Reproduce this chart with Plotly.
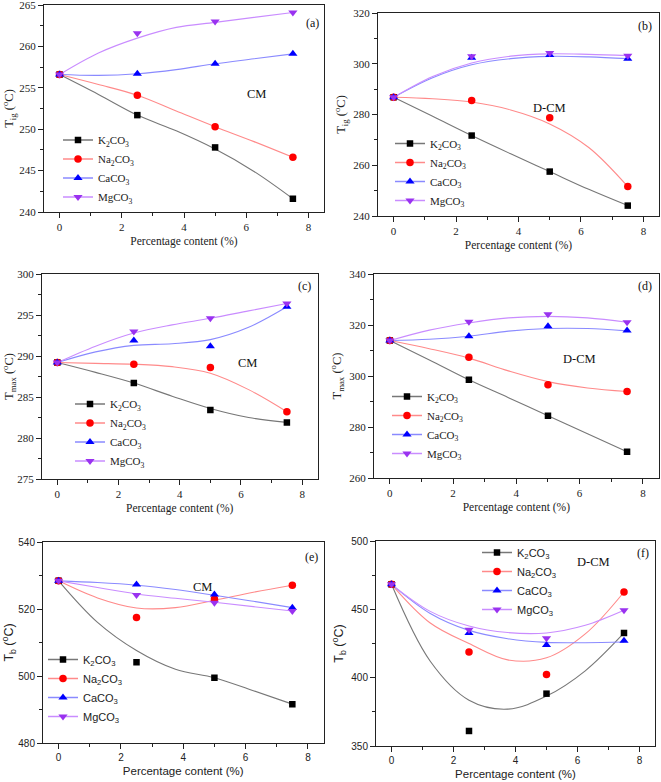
import plotly.graph_objects as go

# ---------------- data ----------------
x_pct = [0, 2.5, 5, 7.5]
x_fit = [0, 1.25, 2.5, 3.75, 5, 6.25, 7.5]

series_names = ["K<sub>2</sub>CO<sub>3</sub>", "Na<sub>2</sub>CO<sub>3</sub>",
                "CaCO<sub>3</sub>", "MgCO<sub>3</sub>"]

# (a) CM, T_ig
a_k2co3 = [256.6, 251.7, 247.8, 241.6]
a_na2co3 = [256.6, 254.1, 250.3, 246.6]
a_caco3 = [256.6, 256.7, 257.9, 259.1]
a_mgco3 = [256.6, 261.6, 263.0, 264.1]
a_k2co3_fit = [256.6, 254.2, 251.7, 249.8, 247.6, 244.9, 241.6]
a_na2co3_fit = [256.6, 255.4, 254.1, 252.2, 250.3, 248.5, 246.6]
a_caco3_fit = [256.6, 256.5, 256.7, 257.2, 257.9, 258.5, 259.1]
a_mgco3_fit = [256.6, 259.2, 261.0, 262.3, 262.9, 263.5, 264.1]

# (b) D-CM, T_ig
b_k2co3 = [286.8, 271.7, 257.5, 244.1]
b_na2co3 = [286.8, 285.5, 278.7, 251.6]
b_caco3 = [286.8, 302.4, 303.4, 302.0]
b_mgco3 = [286.8, 303.0, 304.2, 303.2]
b_k2co3_fit = [286.8, 279.3, 271.7, 264.5, 257.5, 250.5, 244.1]
b_na2co3_fit = [286.8, 286.2, 284.9, 281.8, 276.3, 267.0, 251.6]
b_caco3_fit = [286.8, 294.5, 299.6, 302.0, 302.9, 302.7, 302.0]
b_mgco3_fit = [286.8, 295.0, 300.3, 303.0, 303.9, 303.7, 303.2]

# (c) CM, T_max
c_k2co3 = [289.2, 286.7, 283.4, 281.9]
c_na2co3 = [289.2, 289.0, 288.6, 283.2]
c_caco3 = [289.2, 291.9, 291.2, 296.0]
c_mgco3 = [289.2, 293.0, 294.6, 296.4]
c_k2co3_fit = [289.2, 288.0, 286.7, 285.1, 283.6, 282.5, 281.9]
c_na2co3_fit = [289.2, 289.1, 289.0, 288.7, 287.9, 285.9, 283.2]
c_caco3_fit = [289.2, 290.5, 291.3, 291.5, 292.0, 293.5, 296.0]
c_mgco3_fit = [289.2, 291.2, 292.8, 293.8, 294.6, 295.5, 296.4]

# (d) D-CM, T_max
d_k2co3 = [313.9, 298.5, 284.4, 270.3]
d_na2co3 = [313.9, 307.4, 296.6, 293.9]
d_caco3 = [313.9, 315.6, 319.5, 317.8]
d_mgco3 = [313.9, 321.3, 324.2, 321.1]
d_k2co3_fit = [313.9, 306.3, 298.5, 291.5, 284.4, 277.4, 270.3]
d_na2co3_fit = [313.9, 310.7, 307.0, 302.0, 297.8, 295.3, 293.9]
d_caco3_fit = [313.9, 314.4, 315.6, 317.6, 318.6, 318.6, 317.7]
d_mgco3_fit = [313.9, 318.0, 320.8, 322.8, 323.4, 322.8, 321.1]

# (e) CM, T_b
e_k2co3 = [528.4, 504.1, 499.5, 491.6]
e_na2co3 = [528.4, 517.5, 523.0, 527.1]
e_caco3 = [528.4, 527.3, 524.3, 520.4]
e_mgco3 = [528.4, 524.2, 521.9, 519.4]
e_k2co3_fit = [528.4, 516.0, 507.6, 502.0, 499.5, 495.6, 491.6]
e_na2co3_fit = [528.4, 523.3, 520.3, 520.4, 522.6, 525.0, 527.1]
e_caco3_fit = [528.4, 527.9, 527.1, 525.8, 524.1, 522.3, 520.4]
e_mgco3_fit = [528.4, 526.4, 524.5, 523.2, 522.0, 520.7, 519.4]

# (f) D-CM, T_b
f_k2co3 = [468.3, 361.0, 388.3, 432.7]
f_na2co3 = [468.3, 418.8, 402.4, 462.7]
f_caco3 = [468.3, 432.7, 423.9, 427.0]
f_mgco3 = [468.3, 435.1, 428.8, 449.3]
f_k2co3_fit = [468.3, 412.0, 383.5, 377.0, 386.5, 405.0, 432.7]
f_na2co3_fit = [468.3, 440.0, 425.0, 413.0, 414.5, 432.0, 462.7]
f_caco3_fit = [468.3, 447.0, 434.6, 428.5, 425.8, 425.6, 426.1]
f_mgco3_fit = [468.3, 448.5, 437.8, 433.0, 432.7, 438.3, 449.3]

panel_letters = ["(a)", "(b)", "(c)", "(d)", "(e)", "(f)"]
panel_samples = ["CM", "D-CM", "CM", "D-CM", "CM", "D-CM"]
y_titles = ["T<sub>ig</sub> (<sup>o</sup>C)", "T<sub>ig</sub> (<sup>o</sup>C)",
            "T<sub>max</sub> (<sup>o</sup>C)", "T<sub>max</sub> (<sup>o</sup>C)",
            "T<sub>b</sub> (<sup>o</sup>C)", "T<sub>b</sub> (<sup>o</sup>C)"]
x_title = "Percentage content (%)"
y_ranges = [[240, 265], [240, 320], [275, 300], [260, 340], [480, 540], [350, 500]]
y_dticks = [5, 20, 5, 20, 20, 50]

panel_data = [
    [a_k2co3, a_na2co3, a_caco3, a_mgco3],
    [b_k2co3, b_na2co3, b_caco3, b_mgco3],
    [c_k2co3, c_na2co3, c_caco3, c_mgco3],
    [d_k2co3, d_na2co3, d_caco3, d_mgco3],
    [e_k2co3, e_na2co3, e_caco3, e_mgco3],
    [f_k2co3, f_na2co3, f_caco3, f_mgco3],
]
panel_fits = [
    [a_k2co3_fit, a_na2co3_fit, a_caco3_fit, a_mgco3_fit],
    [b_k2co3_fit, b_na2co3_fit, b_caco3_fit, b_mgco3_fit],
    [c_k2co3_fit, c_na2co3_fit, c_caco3_fit, c_mgco3_fit],
    [d_k2co3_fit, d_na2co3_fit, d_caco3_fit, d_mgco3_fit],
    [e_k2co3_fit, e_na2co3_fit, e_caco3_fit, e_mgco3_fit],
    [f_k2co3_fit, f_na2co3_fit, f_caco3_fit, f_mgco3_fit],
]

# ---------------- styling / layout ----------------
W, H = 661, 782
marker_colors = ["#000000", "#ff0000", "#0000ff", "#9a32f0"]
line_colors = ["#777777", "#ff8a8a", "#8a8aff", "#c98cff"]
symbols = ["square", "circle", "triangle-up", "triangle-down"]
marker_sizes = [6.5, 7.5, 8, 8]

# panel boxes in pixels: left, right, top, bottom
boxes = [(44, 324, 5, 212), (378, 659, 13, 216),
         (42, 317.5, 274, 479), (374, 658.7, 274, 478),
         (43, 323.5, 542, 743), (376, 655, 541, 746)]
# legend anchor (left px, top px)
legend_pos = [(58, 125.5), (390, 129), (70, 389.5), (387, 382), (43, 645), (477, 538)]
letter_pos = [(0.96, 0.913), (0.95, 0.936), (0.953, 0.94), (0.951, 0.94), (0.957, 0.925), (0.957, 0.94)]
sample_pos = [(0.76, 0.57), (0.612, 0.532), (0.745, 0.566), (0.723, 0.583), (0.57, 0.776), (0.778, 0.898)]

serif = "Liberation Serif, Times New Roman, serif"
sans = "Liberation Sans, Arial, sans-serif"

fig = go.Figure()
layout = dict(width=W, height=H, margin=dict(l=0, r=0, t=0, b=0, autoexpand=False),
              paper_bgcolor="white", plot_bgcolor="white", showlegend=True,
              annotations=[])

for p in range(6):
    sfx = "" if p == 0 else str(p + 1)
    xa, ya = "x" + sfx, "y" + sfx
    leg = "legend" + sfx
    font_family = serif if p < 4 else sans

    # fitted curves
    for s in range(4):
        fig.add_trace(go.Scatter(x=x_fit, y=panel_fits[p][s], mode="lines",
                                 line=dict(color=line_colors[s], width=1.1, shape="spline", smoothing=1.0),
                                 xaxis=xa, yaxis=ya, showlegend=False, hoverinfo="skip"))
    # data markers
    for s in range(4):
        fig.add_trace(go.Scatter(x=x_pct, y=panel_data[p][s], mode="markers",
                                 marker=dict(symbol=symbols[s], color=marker_colors[s], size=marker_sizes[s],
                                             line=dict(width=0)),
                                 xaxis=xa, yaxis=ya, showlegend=False, name=series_names[s]))
    # legend entries
    for s in range(4):
        fig.add_trace(go.Scatter(x=[None], y=[None], mode="lines+markers", name=series_names[s],
                                 line=dict(color=line_colors[s], width=1.5),
                                 marker=dict(symbol=symbols[s], color=marker_colors[s], size=marker_sizes[s],
                                             line=dict(width=0)),
                                 xaxis=xa, yaxis=ya, legend=leg, showlegend=True))

    l, r, t, b = boxes[p]
    axis_common = dict(showline=True, linecolor="#222222", linewidth=1, mirror=True,
                       ticks="outside", ticklen=5, tickwidth=1, tickcolor="#222222",
                       showgrid=False, zeroline=False, automargin=False, ticklabeloverflow="allow",
                       tickfont=dict(family=font_family, size=11 if p < 4 else 10, color="#222222"))
    layout["xaxis" + sfx] = dict(axis_common, domain=[l / W, r / W], anchor=ya,
                                 range=[-0.5, 8.5], tick0=0, dtick=2,
                                 minor=dict(dtick=1, ticks="outside", ticklen=3, tickcolor="#222222"),
                                 title=dict(text=x_title, font=dict(family=font_family, size=11.5, color="#222222"),
                                            standoff=4))
    layout["yaxis" + sfx] = dict(axis_common, domain=[1 - b / H, 1 - t / H], anchor=xa,
                                 range=y_ranges[p], tick0=y_ranges[p][0], dtick=y_dticks[p],
                                 minor=dict(dtick=y_dticks[p] / 2, ticks="outside", ticklen=3, tickcolor="#222222"),
                                 title=dict(text=y_titles[p], font=dict(family=font_family, size=12.5, color="#222222"),
                                            standoff=4))
    lx, ly = legend_pos[p]
    layout[leg] = dict(x=lx / W, y=1 - ly / H, xanchor="left", yanchor="top",
                       bgcolor="rgba(0,0,0,0)", borderwidth=0, tracegroupgap=0,
                       font=dict(family=font_family, size=11, color="#222222"))
    layout["annotations"].append(dict(text=panel_letters[p], xref=xa + " domain", yref=ya + " domain",
                                      x=letter_pos[p][0], y=letter_pos[p][1], showarrow=False,
                                      xanchor="center", yanchor="middle",
                                      font=dict(family=serif, size=12, color="#111111")))
    layout["annotations"].append(dict(text=panel_samples[p], xref=xa + " domain", yref=ya + " domain",
                                      x=sample_pos[p][0], y=sample_pos[p][1], showarrow=False,
                                      xanchor="center", yanchor="middle",
                                      font=dict(family=serif, size=12.5, color="#111111")))

fig.update_layout(**layout)
fig.write_html("out.html", config={"displayModeBar": False},
               post_script="document.body.style.margin='0px';document.body.style.padding='0px';"
                           "document.documentElement.style.overflow='hidden';")
